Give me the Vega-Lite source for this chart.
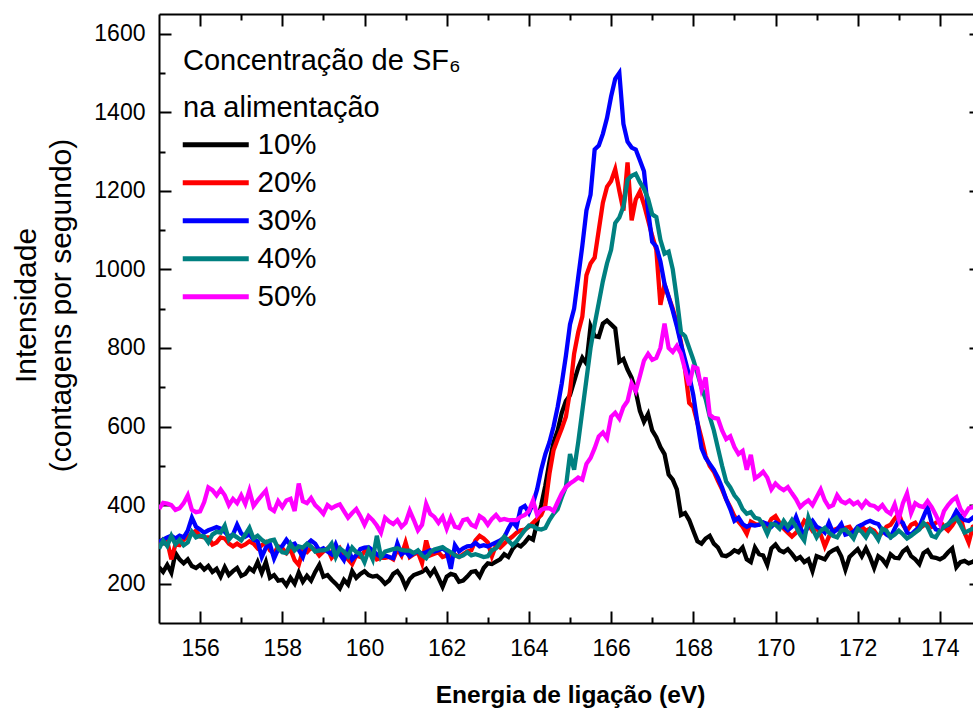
{
"$schema": "https://vega.github.io/schema/vega-lite/v6.json",
"width": 822, "height": 609,
"autosize": {"type": "none"},
"padding": {"left": 159, "top": 14, "right": 0, "bottom": 85},
"background": "white",
"config": {
  "font": "Liberation Sans",
  "view": {"stroke": null},
  "axis": {"domainColor": "#000", "domainWidth": 2, "tickColor": "#000", "tickWidth": 2, "labelColor": "#000", "titleColor": "#000", "grid": false, "labelFont": "Liberation Sans", "titleFont": "Liberation Sans", "labelFontSize": 23}
},
"data": {"values": [
{"x":155.0,"10%":242,"20%":298,"30%":306,"40%":289,"50%":390},
{"x":155.1,"10%":230,"20%":312,"30%":312,"40%":310,"50%":406},
{"x":155.2,"10%":248,"20%":308,"30%":318,"40%":296,"50%":404},
{"x":155.3,"10%":228,"20%":262,"30%":322,"40%":322,"50%":400},
{"x":155.4,"10%":278,"20%":300,"30%":315,"40%":300,"50%":388},
{"x":155.5,"10%":262,"20%":298,"30%":322,"40%":312,"50%":392},
{"x":155.6,"10%":252,"20%":312,"30%":318,"40%":298,"50%":405},
{"x":155.7,"10%":262,"20%":320,"30%":335,"40%":305,"50%":425},
{"x":155.8,"10%":245,"20%":328,"30%":368,"40%":332,"50%":388},
{"x":155.9,"10%":240,"20%":335,"30%":345,"40%":318,"50%":382},
{"x":156.0,"10%":248,"20%":320,"30%":338,"40%":322,"50%":384},
{"x":156.1,"10%":236,"20%":318,"30%":330,"40%":320,"50%":408},
{"x":156.2,"10%":245,"20%":318,"30%":336,"40%":305,"50%":445},
{"x":156.3,"10%":230,"20%":300,"30%":340,"40%":325,"50%":438},
{"x":156.4,"10%":238,"20%":305,"30%":344,"40%":332,"50%":425},
{"x":156.5,"10%":218,"20%":318,"30%":340,"40%":330,"50%":440},
{"x":156.6,"10%":242,"20%":315,"30%":332,"40%":348,"50%":425},
{"x":156.7,"10%":222,"20%":302,"30%":320,"40%":312,"50%":400},
{"x":156.8,"10%":232,"20%":295,"30%":325,"40%":325,"50%":416},
{"x":156.9,"10%":240,"20%":302,"30%":350,"40%":318,"50%":405},
{"x":157.0,"10%":220,"20%":295,"30%":328,"40%":310,"50%":425},
{"x":157.1,"10%":225,"20%":300,"30%":320,"40%":325,"50%":403},
{"x":157.2,"10%":240,"20%":308,"30%":326,"40%":342,"50%":437},
{"x":157.3,"10%":232,"20%":302,"30%":312,"40%":315,"50%":398},
{"x":157.4,"10%":255,"20%":290,"30%":308,"40%":322,"50%":412},
{"x":157.5,"10%":228,"20%":298,"30%":268,"40%":312,"50%":425},
{"x":157.6,"10%":255,"20%":305,"30%":292,"40%":305,"50%":437},
{"x":157.7,"10%":215,"20%":285,"30%":300,"40%":310,"50%":392},
{"x":157.8,"10%":222,"20%":277,"30%":264,"40%":312,"50%":385},
{"x":157.9,"10%":208,"20%":295,"30%":288,"40%":290,"50%":410},
{"x":158.0,"10%":210,"20%":290,"30%":296,"40%":280,"50%":395},
{"x":158.1,"10%":196,"20%":278,"30%":312,"40%":278,"50%":412},
{"x":158.2,"10%":215,"20%":288,"30%":298,"40%":302,"50%":416},
{"x":158.3,"10%":200,"20%":260,"30%":302,"40%":285,"50%":385},
{"x":158.4,"10%":228,"20%":248,"30%":286,"40%":295,"50%":455},
{"x":158.5,"10%":205,"20%":284,"30%":268,"40%":292,"50%":410},
{"x":158.6,"10%":220,"20%":280,"30%":300,"40%":302,"50%":405},
{"x":158.7,"10%":208,"20%":292,"30%":310,"40%":295,"50%":418},
{"x":158.8,"10%":230,"20%":286,"30%":302,"40%":282,"50%":400},
{"x":158.9,"10%":248,"20%":272,"30%":285,"40%":285,"50%":390},
{"x":159.0,"10%":218,"20%":282,"30%":290,"40%":285,"50%":378},
{"x":159.1,"10%":222,"20%":290,"30%":282,"40%":288,"50%":400},
{"x":159.2,"10%":210,"20%":266,"30%":275,"40%":302,"50%":392},
{"x":159.3,"10%":200,"20%":278,"30%":300,"40%":268,"50%":398},
{"x":159.4,"10%":188,"20%":290,"30%":275,"40%":290,"50%":402},
{"x":159.5,"10%":210,"20%":270,"30%":260,"40%":282,"50%":385},
{"x":159.6,"10%":198,"20%":262,"30%":290,"40%":270,"50%":368},
{"x":159.7,"10%":232,"20%":250,"30%":262,"40%":292,"50%":380},
{"x":159.8,"10%":215,"20%":272,"30%":272,"40%":280,"50%":390},
{"x":159.9,"10%":225,"20%":268,"30%":288,"40%":276,"50%":372},
{"x":160.0,"10%":232,"20%":282,"30%":292,"40%":255,"50%":350},
{"x":160.1,"10%":222,"20%":288,"30%":293,"40%":285,"50%":372},
{"x":160.2,"10%":218,"20%":280,"30%":285,"40%":262,"50%":362},
{"x":160.3,"10%":220,"20%":262,"30%":275,"40%":322,"50%":348},
{"x":160.4,"10%":212,"20%":266,"30%":268,"40%":268,"50%":330},
{"x":160.5,"10%":200,"20%":266,"30%":272,"40%":282,"50%":368},
{"x":160.6,"10%":208,"20%":268,"30%":268,"40%":285,"50%":358},
{"x":160.7,"10%":225,"20%":262,"30%":265,"40%":288,"50%":352},
{"x":160.8,"10%":232,"20%":288,"30%":302,"40%":290,"50%":362},
{"x":160.9,"10%":217,"20%":272,"30%":275,"40%":286,"50%":345},
{"x":161.0,"10%":192,"20%":305,"30%":282,"40%":284,"50%":355},
{"x":161.1,"10%":212,"20%":268,"30%":270,"40%":284,"50%":386},
{"x":161.2,"10%":222,"20%":275,"30%":278,"40%":278,"50%":362},
{"x":161.3,"10%":226,"20%":280,"30%":282,"40%":285,"50%":336},
{"x":161.4,"10%":230,"20%":252,"30%":276,"40%":272,"50%":350},
{"x":161.5,"10%":238,"20%":310,"30%":280,"40%":265,"50%":403},
{"x":161.6,"10%":222,"20%":272,"30%":285,"40%":280,"50%":378},
{"x":161.7,"10%":236,"20%":276,"30%":282,"40%":287,"50%":370},
{"x":161.8,"10%":215,"20%":280,"30%":285,"40%":290,"50%":355},
{"x":161.9,"10%":192,"20%":268,"30%":290,"40%":293,"50%":370},
{"x":162.0,"10%":218,"20%":272,"30%":282,"40%":286,"50%":340},
{"x":162.1,"10%":225,"20%":270,"30%":238,"40%":280,"50%":368},
{"x":162.2,"10%":222,"20%":274,"30%":298,"40%":272,"50%":345},
{"x":162.3,"10%":205,"20%":268,"30%":282,"40%":268,"50%":342},
{"x":162.4,"10%":208,"20%":275,"30%":290,"40%":272,"50%":362},
{"x":162.5,"10%":218,"20%":282,"30%":295,"40%":280,"50%":365},
{"x":162.6,"10%":230,"20%":285,"30%":296,"40%":272,"50%":350},
{"x":162.7,"10%":232,"20%":310,"30%":304,"40%":275,"50%":345},
{"x":162.8,"10%":218,"20%":322,"30%":295,"40%":272,"50%":372},
{"x":162.9,"10%":240,"20%":315,"30%":298,"40%":268,"50%":365},
{"x":163.0,"10%":252,"20%":305,"30%":295,"40%":270,"50%":350},
{"x":163.1,"10%":250,"20%":270,"30%":300,"40%":285,"50%":365},
{"x":163.2,"10%":256,"20%":298,"30%":305,"40%":290,"50%":375},
{"x":163.3,"10%":262,"20%":292,"30%":310,"40%":305,"50%":362},
{"x":163.4,"10%":275,"20%":302,"30%":318,"40%":320,"50%":365},
{"x":163.5,"10%":268,"20%":312,"30%":340,"40%":310,"50%":362},
{"x":163.6,"10%":288,"20%":320,"30%":358,"40%":298,"50%":362},
{"x":163.7,"10%":300,"20%":330,"30%":345,"40%":308,"50%":362},
{"x":163.8,"10%":295,"20%":336,"30%":392,"40%":322,"50%":370},
{"x":163.9,"10%":305,"20%":338,"30%":398,"40%":336,"50%":375},
{"x":164.0,"10%":318,"20%":345,"30%":380,"40%":348,"50%":385},
{"x":164.1,"10%":312,"20%":355,"30%":405,"40%":346,"50%":412},
{"x":164.2,"10%":355,"20%":365,"30%":440,"40%":340,"50%":375},
{"x":164.3,"10%":400,"20%":375,"30%":490,"40%":338,"50%":388},
{"x":164.4,"10%":450,"20%":400,"30%":530,"40%":342,"50%":392},
{"x":164.5,"10%":510,"20%":480,"30%":560,"40%":362,"50%":392},
{"x":164.6,"10%":560,"20%":540,"30%":600,"40%":378,"50%":385},
{"x":164.7,"10%":590,"20%":568,"30%":650,"40%":390,"50%":408},
{"x":164.8,"10%":635,"20%":595,"30%":710,"40%":420,"50%":430},
{"x":164.9,"10%":665,"20%":625,"30%":780,"40%":446,"50%":446},
{"x":165.0,"10%":680,"20%":690,"30%":860,"40%":530,"50%":455},
{"x":165.1,"10%":715,"20%":785,"30%":900,"40%":490,"50%":462},
{"x":165.2,"10%":750,"20%":840,"30%":980,"40%":560,"50%":470},
{"x":165.3,"10%":775,"20%":880,"30%":1060,"40%":640,"50%":465},
{"x":165.4,"10%":760,"20%":985,"30%":1150,"40%":720,"50%":505},
{"x":165.5,"10%":855,"20%":1015,"30%":1190,"40%":800,"50%":520},
{"x":165.6,"10%":830,"20%":1030,"30%":1305,"40%":860,"50%":545},
{"x":165.7,"10%":828,"20%":1100,"30%":1315,"40%":915,"50%":575},
{"x":165.8,"10%":862,"20%":1170,"30%":1345,"40%":970,"50%":585},
{"x":165.9,"10%":870,"20%":1210,"30%":1385,"40%":1015,"50%":570},
{"x":166.0,"10%":860,"20%":1225,"30%":1440,"40%":1050,"50%":625},
{"x":166.1,"10%":850,"20%":1255,"30%":1485,"40%":1118,"50%":635},
{"x":166.2,"10%":765,"20%":1200,"30%":1500,"40%":1132,"50%":620},
{"x":166.3,"10%":772,"20%":1150,"30%":1370,"40%":1160,"50%":650},
{"x":166.4,"10%":745,"20%":1272,"30%":1325,"40%":1228,"50%":665},
{"x":166.5,"10%":724,"20%":1125,"30%":1310,"40%":1238,"50%":710},
{"x":166.6,"10%":690,"20%":1178,"30%":1305,"40%":1243,"50%":690},
{"x":166.7,"10%":640,"20%":1198,"30%":1278,"40%":1222,"50%":728},
{"x":166.8,"10%":612,"20%":1165,"30%":1250,"40%":1205,"50%":768},
{"x":166.9,"10%":632,"20%":1125,"30%":1150,"40%":1180,"50%":785},
{"x":167.0,"10%":590,"20%":1085,"30%":1070,"40%":1140,"50%":770},
{"x":167.1,"10%":573,"20%":1050,"30%":1058,"40%":1133,"50%":775},
{"x":167.2,"10%":548,"20%":910,"30%":1020,"40%":1075,"50%":800},
{"x":167.3,"10%":530,"20%":962,"30%":963,"40%":1040,"50%":862},
{"x":167.4,"10%":478,"20%":930,"30%":930,"40%":1045,"50%":800},
{"x":167.5,"10%":465,"20%":900,"30%":895,"40%":1000,"50%":790},
{"x":167.6,"10%":440,"20%":862,"30%":855,"40%":925,"50%":805},
{"x":167.7,"10%":375,"20%":815,"30%":810,"40%":840,"50%":785},
{"x":167.8,"10%":380,"20%":745,"30%":770,"40%":830,"50%":745},
{"x":167.9,"10%":362,"20%":660,"30%":730,"40%":800,"50%":705},
{"x":168.0,"10%":335,"20%":650,"30%":680,"40%":770,"50%":752},
{"x":168.1,"10%":308,"20%":610,"30%":610,"40%":735,"50%":748},
{"x":168.2,"10%":302,"20%":570,"30%":545,"40%":700,"50%":695},
{"x":168.3,"10%":315,"20%":525,"30%":520,"40%":670,"50%":725},
{"x":168.4,"10%":322,"20%":500,"30%":505,"40%":625,"50%":630},
{"x":168.5,"10%":302,"20%":485,"30%":490,"40%":590,"50%":622},
{"x":168.6,"10%":292,"20%":462,"30%":470,"40%":545,"50%":620},
{"x":168.7,"10%":272,"20%":440,"30%":445,"40%":500,"50%":590},
{"x":168.8,"10%":270,"20%":415,"30%":415,"40%":460,"50%":568},
{"x":168.9,"10%":276,"20%":395,"30%":390,"40%":445,"50%":575},
{"x":169.0,"10%":285,"20%":372,"30%":360,"40%":425,"50%":548},
{"x":169.1,"10%":280,"20%":358,"30%":368,"40%":412,"50%":530},
{"x":169.2,"10%":292,"20%":345,"30%":352,"40%":390,"50%":538},
{"x":169.3,"10%":262,"20%":327,"30%":345,"40%":378,"50%":490},
{"x":169.4,"10%":255,"20%":358,"30%":350,"40%":382,"50%":528},
{"x":169.5,"10%":292,"20%":352,"30%":348,"40%":368,"50%":468},
{"x":169.6,"10%":275,"20%":350,"30%":350,"40%":365,"50%":475},
{"x":169.7,"10%":272,"20%":355,"30%":356,"40%":350,"50%":485},
{"x":169.8,"10%":248,"20%":345,"30%":352,"40%":327,"50%":470},
{"x":169.9,"10%":290,"20%":365,"30%":345,"40%":352,"50%":440},
{"x":170.0,"10%":300,"20%":372,"30%":356,"40%":350,"50%":455},
{"x":170.1,"10%":285,"20%":355,"30%":350,"40%":340,"50%":445},
{"x":170.2,"10%":280,"20%":340,"30%":345,"40%":360,"50%":438},
{"x":170.3,"10%":288,"20%":330,"30%":336,"40%":345,"50%":446},
{"x":170.4,"10%":276,"20%":320,"30%":345,"40%":362,"50%":430},
{"x":170.5,"10%":262,"20%":330,"30%":370,"40%":345,"50%":415},
{"x":170.6,"10%":268,"20%":340,"30%":342,"40%":325,"50%":395},
{"x":170.7,"10%":255,"20%":360,"30%":325,"40%":310,"50%":405},
{"x":170.8,"10%":262,"20%":350,"30%":348,"40%":368,"50%":412},
{"x":170.9,"10%":232,"20%":335,"30%":360,"40%":340,"50%":400},
{"x":171.0,"10%":270,"20%":342,"30%":345,"40%":318,"50%":420},
{"x":171.1,"10%":266,"20%":325,"30%":340,"40%":335,"50%":440},
{"x":171.2,"10%":262,"20%":295,"30%":330,"40%":342,"50%":412},
{"x":171.3,"10%":278,"20%":320,"30%":355,"40%":330,"50%":395},
{"x":171.4,"10%":285,"20%":336,"30%":330,"40%":322,"50%":400},
{"x":171.5,"10%":290,"20%":340,"30%":338,"40%":318,"50%":425},
{"x":171.6,"10%":270,"20%":335,"30%":352,"40%":335,"50%":410},
{"x":171.7,"10%":236,"20%":342,"30%":325,"40%":338,"50%":405},
{"x":171.8,"10%":268,"20%":345,"30%":328,"40%":328,"50%":412},
{"x":171.9,"10%":278,"20%":328,"30%":332,"40%":315,"50%":402},
{"x":172.0,"10%":288,"20%":335,"30%":345,"40%":340,"50%":408},
{"x":172.1,"10%":270,"20%":345,"30%":350,"40%":332,"50%":395},
{"x":172.2,"10%":290,"20%":335,"30%":356,"40%":318,"50%":410},
{"x":172.3,"10%":268,"20%":340,"30%":360,"40%":338,"50%":400},
{"x":172.4,"10%":240,"20%":335,"30%":355,"40%":328,"50%":398},
{"x":172.5,"10%":270,"20%":320,"30%":352,"40%":312,"50%":390},
{"x":172.6,"10%":262,"20%":330,"30%":335,"40%":340,"50%":400},
{"x":172.7,"10%":248,"20%":345,"30%":325,"40%":335,"50%":385},
{"x":172.8,"10%":275,"20%":350,"30%":319,"40%":318,"50%":378},
{"x":172.9,"10%":266,"20%":365,"30%":340,"40%":325,"50%":402},
{"x":173.0,"10%":265,"20%":378,"30%":362,"40%":335,"50%":365},
{"x":173.1,"10%":282,"20%":350,"30%":355,"40%":326,"50%":405},
{"x":173.2,"10%":290,"20%":335,"30%":330,"40%":315,"50%":430},
{"x":173.3,"10%":270,"20%":350,"30%":325,"40%":322,"50%":380},
{"x":173.4,"10%":262,"20%":355,"30%":335,"40%":330,"50%":405},
{"x":173.5,"10%":250,"20%":340,"30%":345,"40%":338,"50%":398},
{"x":173.6,"10%":278,"20%":348,"30%":370,"40%":355,"50%":395},
{"x":173.7,"10%":285,"20%":352,"30%":395,"40%":345,"50%":410},
{"x":173.8,"10%":268,"20%":345,"30%":355,"40%":322,"50%":395},
{"x":173.9,"10%":266,"20%":355,"30%":338,"40%":318,"50%":375},
{"x":174.0,"10%":262,"20%":360,"30%":335,"40%":335,"50%":352},
{"x":174.1,"10%":268,"20%":345,"30%":345,"40%":345,"50%":385},
{"x":174.2,"10%":280,"20%":335,"30%":350,"40%":352,"50%":400},
{"x":174.3,"10%":290,"20%":348,"30%":365,"40%":360,"50%":412},
{"x":174.4,"10%":242,"20%":365,"30%":385,"40%":368,"50%":420},
{"x":174.5,"10%":255,"20%":370,"30%":370,"40%":350,"50%":390},
{"x":174.6,"10%":258,"20%":330,"30%":362,"40%":330,"50%":375},
{"x":174.7,"10%":252,"20%":305,"30%":360,"40%":335,"50%":392},
{"x":174.8,"10%":256,"20%":345,"30%":368,"40%":340,"50%":395},
{"x":174.9,"10%":262,"20%":350,"30%":360,"40%":338,"50%":390},
{"x":175.0,"10%":258,"20%":345,"30%":365,"40%":342,"50%":392}
]},
"transform": [{"fold": ["10%", "20%", "30%", "40%", "50%"], "as": ["s", "v"]}],
"layer": [
  {
    "mark": {"type": "line", "strokeWidth": 4.3, "clip": true},
    "encoding": {
      "x": {"field": "x", "type": "quantitative", "scale": {"domain": [155, 175], "nice": false, "zero": false},
        "axis": {"orient": "bottom", "values": [156,158,160,162,164,166,168,170,172,174], "format": "d", "tickSize": -12, "labelPadding": 26, "labelFontSize": 23,
          "title": "Energia de ligação (eV)", "titleFontSize": 24.5, "titleFontWeight": "bold", "titleBaseline": "alphabetic", "titleY": 79}},
      "y": {"field": "v", "type": "quantitative", "scale": {"domain": [100, 1650], "nice": false, "zero": false},
        "axis": {"orient": "left", "values": [200,400,600,800,1000,1200,1400,1600], "format": "d", "tickSize": -12, "labelPadding": 26, "labelFontSize": 23,
          "title": ["Intensidade", "(contagens por segundo)"], "titleFontSize": 30, "titleFontWeight": "normal", "titleLineHeight": 35,
          "titleAngle": -90, "titleBaseline": "middle", "titleAlign": "center", "titleX": -133, "titleY": 291, "titleLimit": 0}},
      "color": {"field": "s", "type": "nominal",
        "scale": {"domain": ["10%", "20%", "30%", "40%", "50%"], "range": ["#000000", "#ff0000", "#0000ff", "#008080", "#ff00ff"]},
        "legend": {"orient": "none", "legendX": 24, "legendY": 33, "padding": 0,
          "title": ["Concentração de SF₆", "na alimentação"], "titleFontSize": 29, "titleFontWeight": "normal", "titleLineHeight": 47, "titlePadding": 7, "titleColor": "#000", "titleFont": "Liberation Sans", "titleLimit": 0,
          "labelFontSize": 29.5, "labelColor": "#000", "labelFont": "Liberation Sans", "labelOffset": 49, "labelLimit": 0,
          "symbolType": "M-1,0H5", "symbolSize": 484, "symbolStrokeWidth": 5, "symbolOffset": -4, "rowPadding": 7}}
    }
  },
  {
    "mark": {"type": "point", "opacity": 0},
    "encoding": {
      "x": {"field": "x", "type": "quantitative", "scale": {"domain": [155, 175], "nice": false, "zero": false},
        "axis": {"orient": "bottom", "values": [157,159,161,163,165,167,169,171,173], "tickSize": -6, "labels": false, "domain": false, "title": null}},
      "y": {"field": "v", "type": "quantitative", "scale": {"domain": [100, 1650], "nice": false, "zero": false},
        "axis": {"orient": "left", "values": [300,500,700,900,1100,1300,1500], "tickSize": -6, "labels": false, "domain": false, "title": null}}
    }
  },
  {
    "mark": {"type": "point", "opacity": 0},
    "encoding": {
      "x": {"field": "x", "type": "quantitative", "scale": {"domain": [155, 175], "nice": false, "zero": false},
        "axis": {"orient": "top", "values": [156,158,160,162,164,166,168,170,172,174], "tickSize": -12, "labels": false, "domain": true, "title": null}},
      "y": {"field": "v", "type": "quantitative", "scale": {"domain": [100, 1650], "nice": false, "zero": false},
        "axis": {"orient": "right", "values": [200,400,600,800,1000,1200,1400,1600], "tickSize": -12, "labels": false, "domain": true, "title": null}}
    }
  },
  {
    "mark": {"type": "point", "opacity": 0},
    "encoding": {
      "x": {"field": "x", "type": "quantitative", "scale": {"domain": [155, 175], "nice": false, "zero": false},
        "axis": {"orient": "top", "values": [157,159,161,163,165,167,169,171,173], "tickSize": -6, "labels": false, "domain": false, "title": null}},
      "y": {"field": "v", "type": "quantitative", "scale": {"domain": [100, 1650], "nice": false, "zero": false},
        "axis": {"orient": "right", "values": [300,500,700,900,1100,1300,1500], "tickSize": -6, "labels": false, "domain": false, "title": null}}
    }
  }
],
"resolve": {"axis": {"x": "independent", "y": "independent"}}
}
